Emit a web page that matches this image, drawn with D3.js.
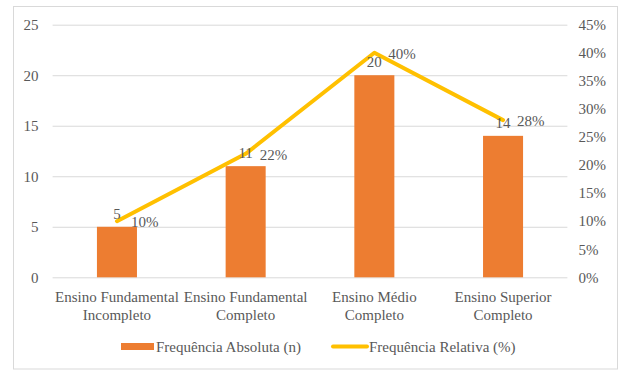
<!DOCTYPE html>
<html>
<head>
<meta charset="utf-8">
<script src="https://cdn.jsdelivr.net/npm/d3@7"></script>
<style>
  html, body { margin: 0; padding: 0; background: #fff; }
  svg { display: block; }
  text { font-family: "Liberation Serif", "Times New Roman", serif; fill: #595959; }
</style>
</head>
<body>
<svg id="chart" width="625" height="376"></svg>
<script>
// ---- data ----
const categories = [
  ["Ensino Fundamental", "Incompleto"],
  ["Ensino Fundamental", "Completo"],
  ["Ensino Médio", "Completo"],
  ["Ensino Superior", "Completo"]
];
const absoluteValues = [5, 11, 20, 14];
const relativeValues = [0.10, 0.22, 0.40, 0.28];
const leftTicks = [0, 5, 10, 15, 20, 25];
const rightTicks = [0, 0.05, 0.10, 0.15, 0.20, 0.25, 0.30, 0.35, 0.40, 0.45];
const seriesNames = ["Frequência Absoluta (n)", "Frequência Relativa (%)"];

// ---- layout ----
const W = 625, H = 376;
const plot = { left: 52.6, right: 567.4, top: 24.7, bottom: 277.3 };
const barColor = "#ED7D31", lineColor = "#FFC000", gridColor = "#D9D9D9";
const fontSize = 15;

const svg = d3.select("#chart");

// outer border
svg.append("rect")
  .attr("x", 13.5).attr("y", 6.5)
  .attr("width", 604).attr("height", 362.5)
  .attr("fill", "#fff").attr("stroke", gridColor).attr("stroke-width", 1);

const keys = categories.map((c, i) => i);
const x = d3.scaleBand().domain(keys).range([plot.left, plot.right])
  .paddingInner(0.689).paddingOuter(0.3445);
const y = d3.scaleLinear().domain([0, 25]).range([plot.bottom, plot.top]);
const y2 = d3.scaleLinear().domain([0, 0.45]).range([plot.bottom, plot.top]);

// gridlines via axis
const grid = svg.append("g")
  .attr("transform", `translate(${plot.left},0)`)
  .call(d3.axisLeft(y).tickValues(leftTicks).tickSize(-(plot.right - plot.left)).tickFormat(""));
grid.select(".domain").remove();
grid.selectAll("line").attr("stroke", gridColor).attr("stroke-width", 1);

// left axis labels
const ly = svg.append("g")
  .attr("transform", `translate(${plot.left},0)`)
  .call(d3.axisLeft(y).tickValues(leftTicks).tickSize(0).tickPadding(14));
ly.select(".domain").remove();
ly.selectAll("text").attr("font-size", fontSize).attr("fill", "#595959")
  .style("font-family", '"Liberation Serif", serif');

// right axis labels
const ry = svg.append("g")
  .attr("transform", `translate(${plot.right},0)`)
  .call(d3.axisRight(y2).tickValues(rightTicks).tickSize(0).tickPadding(11)
    .tickFormat(d3.format(".0%")));
ry.select(".domain").remove();
ry.selectAll("text").attr("font-size", fontSize).attr("fill", "#595959")
  .style("font-family", '"Liberation Serif", serif');

// bars
svg.append("g").selectAll("rect")
  .data(absoluteValues)
  .join("rect")
  .attr("x", (d, i) => x(i))
  .attr("width", x.bandwidth())
  .attr("y", d => y(d))
  .attr("height", d => y(0) - y(d))
  .attr("fill", barColor);

// line
const cx = i => x(i) + x.bandwidth() / 2;
const line = d3.line().x((d, i) => cx(i)).y(d => y2(d));
svg.append("path")
  .datum(relativeValues)
  .attr("d", line)
  .attr("fill", "none")
  .attr("stroke", lineColor)
  .attr("stroke-width", 4)
  .attr("stroke-linejoin", "round")
  .attr("stroke-linecap", "round");

// bar value labels
svg.append("g").selectAll("text")
  .data(absoluteValues)
  .join("text")
  .attr("x", (d, i) => cx(i))
  .attr("y", d => y(d) - 13.5)
  .attr("dy", "0.35em")
  .attr("text-anchor", "middle")
  .attr("font-size", fontSize)
  .text(d => d);

// line value labels
svg.append("g").selectAll("text")
  .data(relativeValues)
  .join("text")
  .attr("x", (d, i) => cx(i) + 14)
  .attr("y", d => y2(d) + 1)
  .attr("dy", "0.35em")
  .attr("text-anchor", "start")
  .attr("font-size", fontSize)
  .text(d => d3.format(".0%")(d));

// category labels
const catG = svg.append("g").selectAll("text")
  .data(categories)
  .join("text")
  .attr("x", (d, i) => cx(i))
  .attr("y", 297)
  .attr("text-anchor", "middle")
  .attr("font-size", fontSize);
catG.selectAll("tspan")
  .data(d => d)
  .join("tspan")
  .attr("x", function () { return d3.select(this.parentNode).attr("x"); })
  .attr("dy", (d, j) => j === 0 ? "0.35em" : "1.17em")
  .text(d => d);

// legend
const legY = 346.5;
const leg = svg.append("g");
leg.append("rect").attr("x", 121).attr("y", legY - 3.5).attr("width", 33).attr("height", 7).attr("fill", barColor);
leg.append("text").attr("x", 156).attr("y", legY).attr("dy", "0.35em").attr("font-size", fontSize).text(seriesNames[0]);
leg.append("line").attr("x1", 333).attr("x2", 367).attr("y1", legY).attr("y2", legY)
  .attr("stroke", lineColor).attr("stroke-width", 4).attr("stroke-linecap", "round");
leg.append("text").attr("x", 369).attr("y", legY).attr("dy", "0.35em").attr("font-size", fontSize).text(seriesNames[1]);
</script>
</body>
</html>
